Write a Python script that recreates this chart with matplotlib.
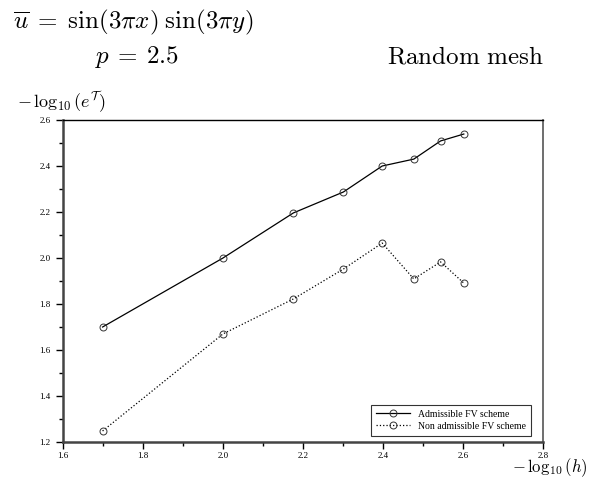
import matplotlib
matplotlib.use("Agg")
import matplotlib.pyplot as plt
from matplotlib.ticker import MultipleLocator

plt.rcParams['mathtext.fontset'] = 'cm'
plt.rcParams['font.family'] = 'Liberation Serif'

# -log10(h) for the meshes
x = [1.699, 2.0, 2.176, 2.301, 2.398, 2.477, 2.544, 2.602]
# -log10(error)
admissible = [1.70, 2.00, 2.196, 2.287, 2.40, 2.43, 2.509, 2.539]
non_admissible = [1.248, 1.670, 1.822, 1.952, 2.065, 1.909, 1.983, 1.891]

xticks = [1.6, 1.8, 2.0, 2.2, 2.4, 2.6, 2.8]
yticks = [1.2, 1.4, 1.6, 1.8, 2.0, 2.2, 2.4, 2.6]

fig = plt.figure(figsize=(5.97, 4.79), dpi=100)
ax = fig.add_axes([63/597, 1-442/479, 480/597, 322/479])

ax.plot(x, admissible, '-', color='black', lw=0.9, marker='o', ms=5,
        mfc='none', mec='#333333', mew=0.7, label='Admissible FV scheme')
ax.plot(x, non_admissible, ':', color='black', lw=0.9, marker='o', ms=5,
        mfc='none', mec='#333333', mew=0.7, label='Non admissible FV scheme')

ax.set_xlim(1.6, 2.8)
ax.set_ylim(1.2, 2.6)
ax.set_xticks(xticks)
ax.set_xticklabels(['%.1f' % v for v in xticks])
ax.set_yticks(yticks)
ax.set_yticklabels(['%.1f' % v for v in yticks])
ax.xaxis.set_minor_locator(MultipleLocator(0.1))
ax.yaxis.set_minor_locator(MultipleLocator(0.1))
ax.tick_params(which='major', direction='out', length=5, width=1, labelsize=6.5)
ax.tick_params(which='minor', direction='out', length=3, width=1)
ax.tick_params(axis='x', pad=2)
ax.tick_params(axis='y', pad=4)

for s in ['left', 'bottom']:
    ax.spines[s].set_linewidth(1.8)
    ax.spines[s].set_color('#444444')
ax.spines['right'].set_linewidth(1.2)
ax.spines['right'].set_color('#555555')
ax.spines['top'].set_linewidth(1.0)

leg = ax.legend(loc='lower right', fontsize=7, frameon=True, fancybox=False,
                edgecolor='black', handlelength=3.5, borderpad=0.5, numpoints=1,
                labelspacing=0.3, bbox_to_anchor=(0.985, 0.005))
leg.get_frame().set_linewidth(0.8)

fig.text(13/597, 1-28/479,
         r'$\overline{u}\;=\;\sin(3\pi x)\;\sin(3\pi y)$', fontsize=18)
fig.text(95/597, 1-63/479, r'$p\:=\:2.5$', fontsize=18)
fig.text(387/597, 1-63/479, r'$\mathrm{Random\ mesh}$', fontsize=18)
fig.text(17/597, 1-108/479, r'$-\,\log_{10}(e^{\mathcal{T}})$', fontsize=13)
fig.text(512/597, 1-472/479, r'$-\,\log_{10}(h)$', fontsize=12)

fig.savefig('out.png', dpi=100)
